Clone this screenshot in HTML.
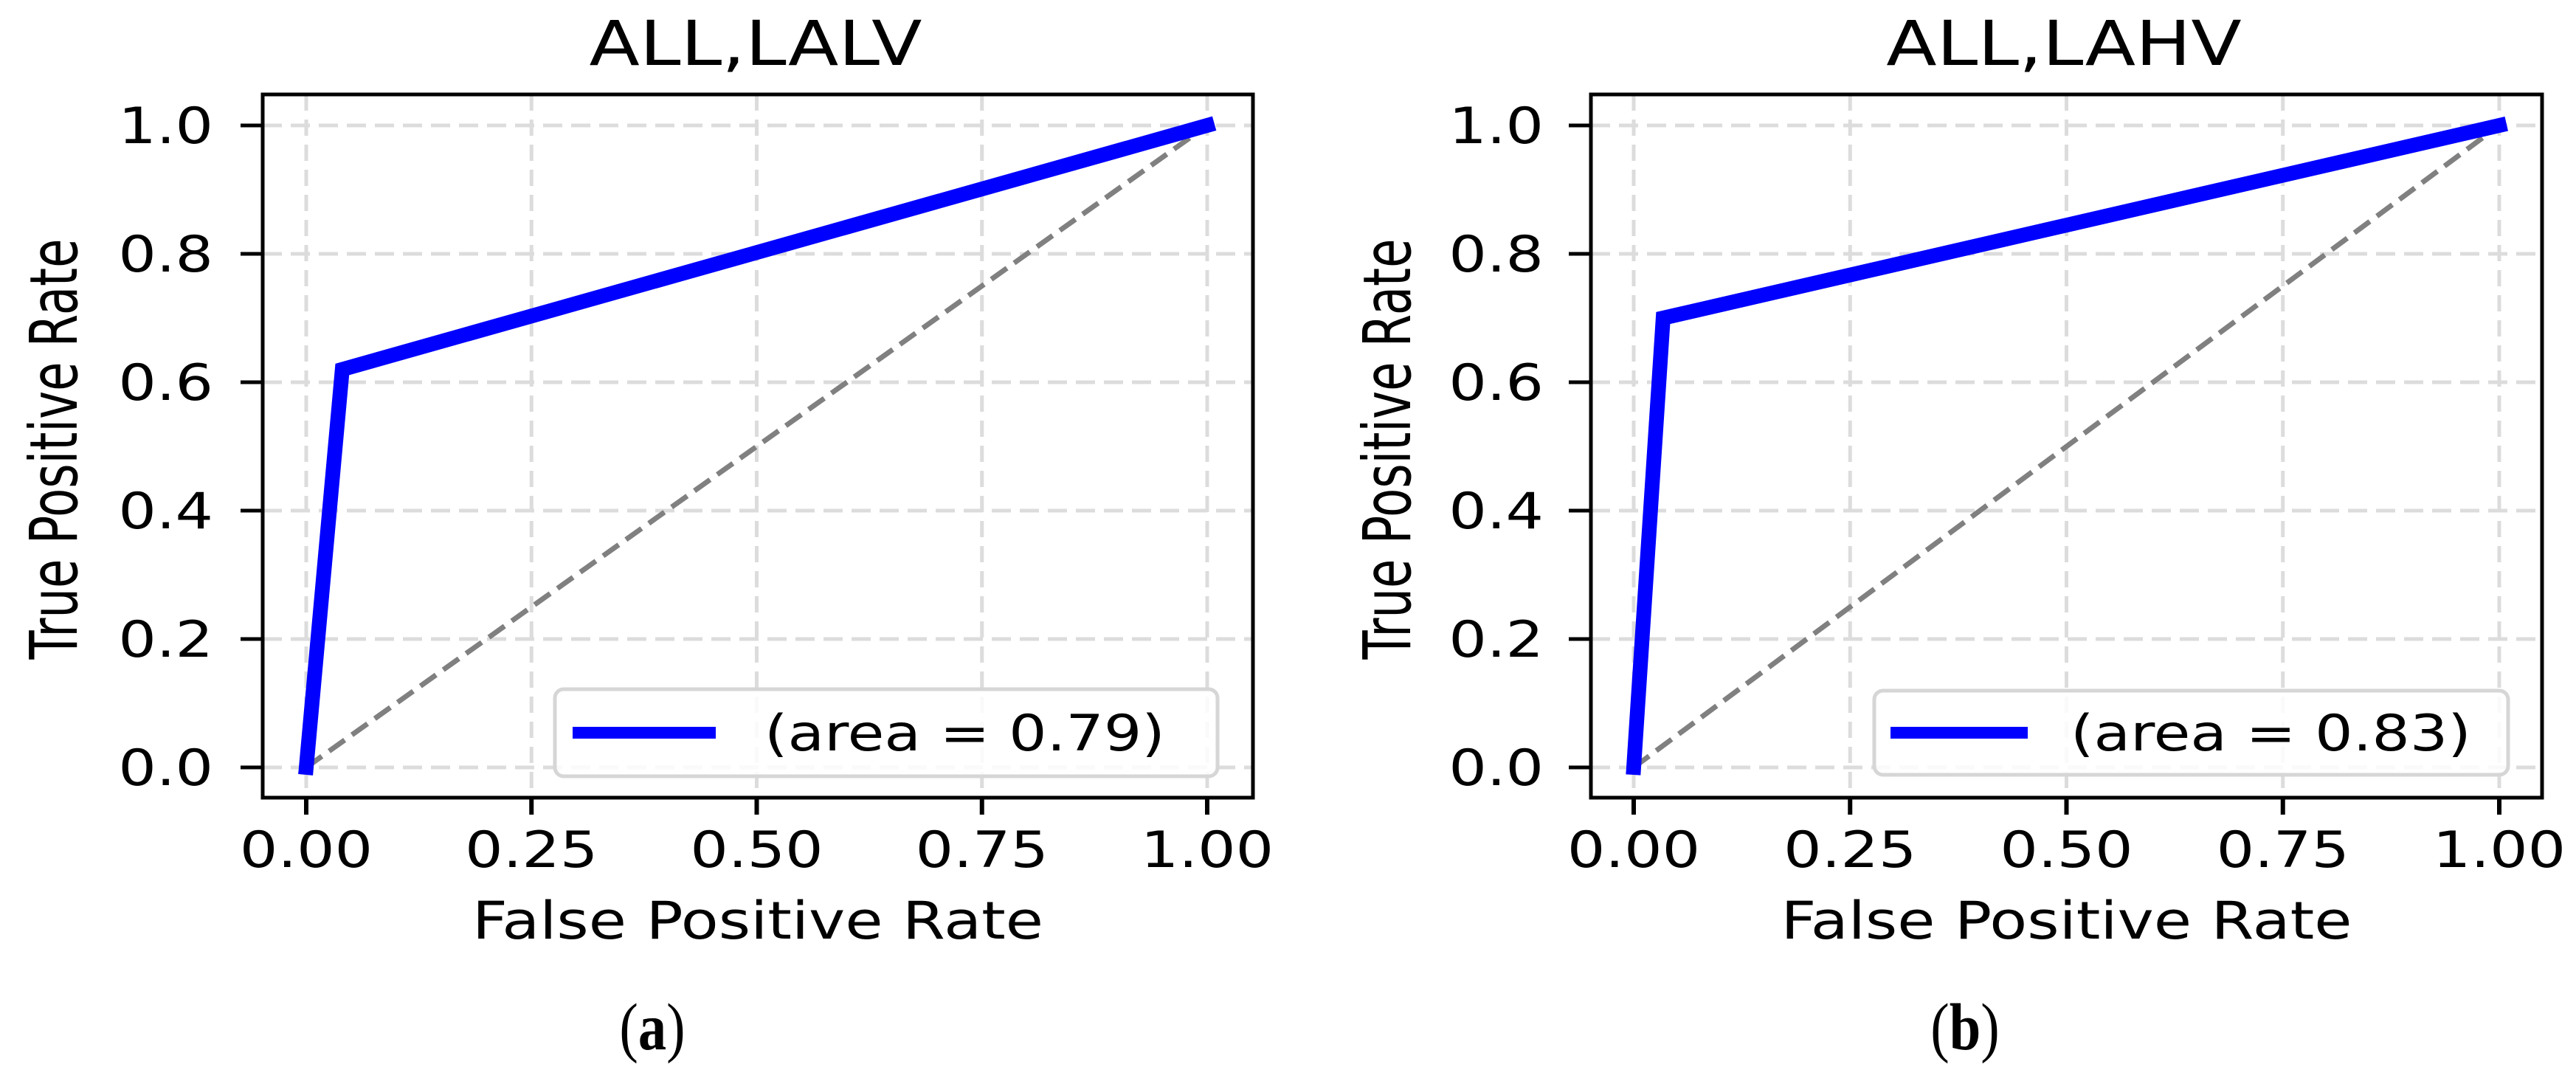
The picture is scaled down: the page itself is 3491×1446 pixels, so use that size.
<!DOCTYPE html>
<html><head><meta charset="utf-8"><style>
html,body{margin:0;padding:0;background:#fff;}
svg{display:block;}
text{font-family:"DejaVu Sans","Liberation Sans",sans-serif;fill:#000;}
</style></head><body>
<svg id="fig" width="3491" height="1446" viewBox="0 0 3491 1446" xmlns="http://www.w3.org/2000/svg"></svg>
<script>
const fprA = [0, 0.04, 1];
const tprA = [0, 0.62, 1];
const fprB = [0, 0.034, 1];
const tprB = [0, 0.70, 1];
const aucA = "0.79";
const aucB = "0.83";
const titles = ["ALL,LALV", "ALL,LAHV"];
const xTicks = [0, 0.25, 0.5, 0.75, 1.0];
const xTickLabels = ["0.00", "0.25", "0.50", "0.75", "1.00"];
const yTicks = [0, 0.2, 0.4, 0.6, 0.8, 1.0];
const yTickLabels = ["0.0", "0.2", "0.4", "0.6", "0.8", "1.0"];

const NS = "http://www.w3.org/2000/svg";
const svg = document.getElementById('fig');
const SX = 1.19, FS = 68;
function mk(tag, attrs, parent) {
  const e = document.createElementNS(NS, tag);
  for (const k in attrs) e.setAttribute(k, attrs[k]);
  (parent || svg).appendChild(e);
  return e;
}
function txt(parent, s, x, y, size, anchor, extra, sx) {
  const t = mk('text', {x: 0, y: 0, 'font-size': size, 'text-anchor': anchor,
    transform: `translate(${x},${y}) scale(${sx || SX},1)` + (extra || '')}, parent);
  t.textContent = s;
  return t;
}
const panels = [
  {L:356, R:1698, T:128, B:1081, x0:415, x1:1636, y0:1040, y1:170, fpr:fprA, tpr:tprA, auc:aucA, title:titles[0], tx:1024, ylx:104, ytlx:289,
   leg:{x:752, y:934, w:898, h:118, lx1:776, lx2:970, tx:1036}, sub:"a", subx:884, id:"a"},
  {L:2156, R:3445, T:128, B:1081, x0:2214, x1:3387, y0:1040, y1:170, fpr:fprB, tpr:tprB, auc:aucB, title:titles[1], tx:2797, ylx:1911, ytlx:2092,
   leg:{x:2540, y:936, w:859, h:114, lx1:2562, lx2:2748, tx:2806}, sub:"b", subx:2663, id:"b"}
];
panels.forEach(p => {
  const g = mk('g', {});
  
  
  const sx = v => p.x0 + v * (p.x1 - p.x0);
  const sy = v => p.y0 + v * (p.y1 - p.y0);
  xTicks.forEach(v => {
    const l = mk('line', {x1: sx(v), x2: sx(v), y1: p.T, y2: p.B, stroke: '#dcdcdc', 'stroke-width': 5, 'stroke-dasharray': '22 12'}, g);
    
    
  });
  yTicks.forEach(v => {
    const l = mk('line', {x1: p.L, x2: p.R, y1: sy(v), y2: sy(v), stroke: '#dcdcdc', 'stroke-width': 5, 'stroke-dasharray': '26 12'}, g);
    
    
  });
  const d = mk('line', {x1: sx(0), y1: sy(0), x2: sx(1), y2: sy(1), stroke: '#808080', 'stroke-width': 7, 'stroke-dasharray': '26 12'}, g);
  
  
  const pts = p.fpr.map((f, i) => sx(f) + ',' + sy(p.tpr[i])).join(' ');
  const r = mk('polyline', {points: pts, fill: 'none', stroke: '#0000ff', 'stroke-width': 20, 'stroke-linejoin': 'miter', 'stroke-linecap': 'square'}, g);
  
  
  const f = mk('rect', {x: p.L, y: p.T, width: p.R - p.L, height: p.B - p.T, fill: 'none', stroke: '#000', 'stroke-width': 5}, g);
  
  
  xTicks.forEach((v, i) => {
    const t = mk('line', {x1: sx(v), x2: sx(v), y1: p.B, y2: p.B + 23, stroke: '#000', 'stroke-width': 6}, g);
    
    
    const lb = txt(g, xTickLabels[i], sx(v), 1175, FS, 'middle');
    
    
  });
  yTicks.forEach((v, i) => {
    const t = mk('line', {x1: p.L - 30, x2: p.L, y1: sy(v), y2: sy(v), stroke: '#000', 'stroke-width': 5}, g);
    
    
    const lb = txt(g, yTickLabels[i], p.ytlx, sy(v) + 24, FS, 'end');
    
    
  });
  const ti = txt(g, p.title, p.tx, 88, 84, 'middle');
  
  
  const xl = txt(g, 'False Positive Rate', (p.L + p.R) / 2, 1272, 70, 'middle');
  
  
  const yl = txt(g, 'True Positive Rate', p.ylx, (p.T + p.B) / 2 + 4, 64, 'middle', ' rotate(-90)', 1.4);
  
  
  const lg = mk('g', {}, g);
  
  
  const lb = mk('rect', {x: p.leg.x, y: p.leg.y, width: p.leg.w, height: p.leg.h, rx: 12, fill: '#fff', 'fill-opacity': 0.85, stroke: '#d6d6d6', 'stroke-width': 5}, lg);
  
  
  const ly = p.leg.y + p.leg.h / 2;
  const ll = mk('line', {x1: p.leg.lx1, x2: p.leg.lx2, y1: ly, y2: ly, stroke: '#0000ff', 'stroke-width': 16}, lg);
  
  
  const lt = txt(lg, '(area = ' + p.auc + ')', p.leg.tx, ly + 24, FS, 'start');
  
  
  const s = mk('text', {x: 0, y: 0, 'font-size': 90, 'text-anchor': 'middle', transform: `translate(${p.subx},1422) scale(0.85,1)`, style: 'font-family:"Liberation Serif",serif'}, svg);
  
  
  s.appendChild(document.createTextNode('('));
  const b = mk('tspan', {'font-weight': 'bold'}, s);
  b.textContent = p.sub;
  s.appendChild(document.createTextNode(')'));
});
</script>
</body></html>
